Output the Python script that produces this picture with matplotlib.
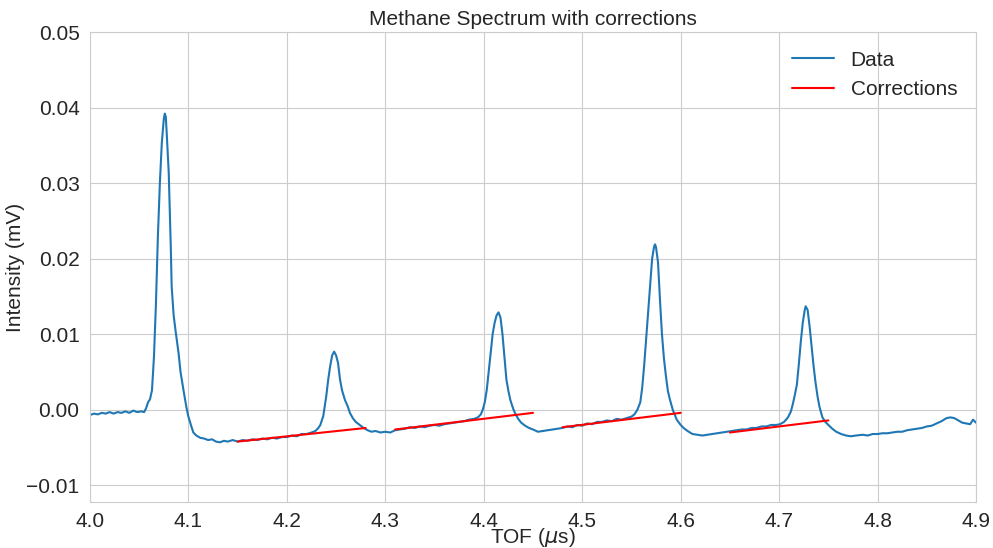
import matplotlib
matplotlib.use('Agg')
import matplotlib.pyplot as plt
import seaborn as sns
import numpy as np

# TOF trace (microseconds, mV)
tof = [
    4.000, 4.004, 4.008, 4.012, 4.016, 4.020, 4.024, 4.028, 4.032, 4.036,
    4.040, 4.044, 4.048, 4.052, 4.055, 4.057, 4.059, 4.061, 4.063, 4.065,
    4.067, 4.069, 4.071, 4.073, 4.075, 4.076, 4.077, 4.078, 4.080, 4.082,
    4.083, 4.085, 4.087, 4.090, 4.092, 4.095, 4.098, 4.100, 4.103, 4.105,
    4.108, 4.112, 4.116, 4.120, 4.124, 4.128, 4.132, 4.136, 4.140, 4.145,
    4.150, 4.155, 4.160, 4.165, 4.170, 4.175, 4.180, 4.185, 4.190, 4.195,
    4.200, 4.205, 4.210, 4.215, 4.220, 4.225, 4.229, 4.232, 4.234, 4.237,
    4.240, 4.242, 4.244, 4.246, 4.248, 4.250, 4.252, 4.254, 4.256, 4.259,
    4.262, 4.264, 4.267, 4.270, 4.274, 4.278, 4.282, 4.286, 4.290, 4.295,
    4.300, 4.305, 4.310, 4.315, 4.320, 4.325, 4.330, 4.335, 4.340, 4.345,
    4.350, 4.355, 4.360, 4.365, 4.370, 4.375, 4.380, 4.385, 4.390, 4.394,
    4.397, 4.399, 4.401, 4.403, 4.405, 4.407, 4.409, 4.411, 4.413, 4.415,
    4.417, 4.419, 4.421, 4.423, 4.425, 4.427, 4.430, 4.432, 4.435, 4.438,
    4.442, 4.446, 4.450, 4.455, 4.460, 4.465, 4.470, 4.475, 4.480, 4.485,
    4.490, 4.495, 4.500, 4.505, 4.510, 4.515, 4.520, 4.525, 4.530, 4.535,
    4.540, 4.545, 4.550, 4.553, 4.556, 4.559, 4.561, 4.563, 4.565, 4.567,
    4.569, 4.571, 4.573, 4.574, 4.575, 4.577, 4.579, 4.581, 4.583, 4.585,
    4.587, 4.589, 4.592, 4.596, 4.600, 4.603, 4.607, 4.612, 4.617, 4.622,
    4.627, 4.632, 4.637, 4.642, 4.647, 4.652, 4.657, 4.662, 4.667, 4.672,
    4.677, 4.682, 4.687, 4.692, 4.697, 4.701, 4.705, 4.709, 4.712, 4.714,
    4.716, 4.718, 4.720, 4.722, 4.724, 4.726, 4.727, 4.729, 4.731, 4.733,
    4.735, 4.737, 4.739, 4.741, 4.744, 4.747, 4.750, 4.754, 4.758, 4.763,
    4.768, 4.773, 4.778, 4.785, 4.790, 4.795, 4.800, 4.805, 4.810, 4.815,
    4.820, 4.825, 4.830, 4.835, 4.840, 4.845, 4.850, 4.855, 4.860, 4.865,
    4.870, 4.874, 4.878, 4.882, 4.886, 4.890, 4.894, 4.897, 4.900,
]
intensity = [
    -0.0007, -0.0005, -0.0006, -0.0004, -0.0005, -0.0003, -0.0005, -0.0003, -0.0004, -0.0002,
    -0.0004, -0.0001, -0.0003, -0.0002, -0.0003, 0.0002, 0.0010, 0.0014, 0.0026, 0.0070,
    0.0140, 0.0230, 0.0300, 0.0354, 0.0385, 0.0392, 0.0388, 0.0365, 0.0314, 0.0220,
    0.0163, 0.0125, 0.0104, 0.0075, 0.0050, 0.0026, 0.0003, -0.0009, -0.0022, -0.0030,
    -0.0034, -0.0037, -0.0038, -0.0040, -0.0039, -0.0042, -0.0043, -0.0041, -0.0042, -0.0040,
    -0.0042, -0.0040, -0.0041, -0.0039, -0.0040, -0.0038, -0.0039, -0.0037, -0.0038, -0.0036,
    -0.0036, -0.0034, -0.0035, -0.0032, -0.0032, -0.0030, -0.0028, -0.0024, -0.0020, -0.0008,
    0.0018, 0.0040, 0.0058, 0.0072, 0.0077, 0.0072, 0.0062, 0.0040, 0.0026, 0.0013,
    0.0004, -0.0004, -0.0011, -0.0016, -0.0020, -0.0024, -0.0027, -0.0029, -0.0028, -0.0030,
    -0.0029, -0.0030, -0.0027, -0.0026, -0.0025, -0.0023, -0.0024, -0.0022, -0.0023, -0.0021,
    -0.0020, -0.0021, -0.0019, -0.0018, -0.0017, -0.0016, -0.0015, -0.0013, -0.0012, -0.0010,
    -0.0006, 0.0000, 0.0010, 0.0026, 0.0050, 0.0075, 0.0100, 0.0115, 0.0125, 0.0129,
    0.0122, 0.0100, 0.0070, 0.0040, 0.0025, 0.0013, 0.0001, -0.0005, -0.0012, -0.0017,
    -0.0021, -0.0024, -0.0026, -0.0029, -0.0028, -0.0027, -0.0026, -0.0025, -0.0024, -0.0022,
    -0.0023, -0.0020, -0.0021, -0.0018, -0.0019, -0.0016, -0.0016, -0.0014, -0.0015, -0.0012,
    -0.0013, -0.0011, -0.0009, -0.0006, 0.0000, 0.0010, 0.0030, 0.0060, 0.0095, 0.0130,
    0.0165, 0.0200, 0.0216, 0.0219, 0.0215, 0.0195, 0.0145, 0.0100, 0.0068, 0.0045,
    0.0025, 0.0014, 0.0000, -0.0013, -0.0020, -0.0024, -0.0028, -0.0032, -0.0033, -0.0034,
    -0.0033, -0.0032, -0.0031, -0.0030, -0.0029, -0.0028, -0.0027, -0.0026, -0.0026, -0.0024,
    -0.0024, -0.0022, -0.0022, -0.0020, -0.0020, -0.0019, -0.0016, -0.0010, -0.0002, 0.0008,
    0.0020, 0.0033, 0.0060, 0.0090, 0.0115, 0.0132, 0.0137, 0.0132, 0.0110, 0.0084,
    0.0058, 0.0036, 0.0018, 0.0004, -0.0010, -0.0016, -0.0020, -0.0025, -0.0029, -0.0032,
    -0.0034, -0.0035, -0.0034, -0.0033, -0.0034, -0.0032, -0.0032, -0.0031, -0.0031, -0.0030,
    -0.0029, -0.0029, -0.0027, -0.0026, -0.0025, -0.0024, -0.0022, -0.0021, -0.0018, -0.0015,
    -0.0011, -0.0010, -0.0011, -0.0014, -0.0017, -0.0018, -0.0019, -0.0013, -0.0017,
]

# baseline corrections: one straight segment per peak (start/end)
corr_tof = [(4.15, 4.28), (4.31, 4.45), (4.48, 4.60), (4.65, 4.75)]
corr_val = [(-0.0042, -0.0024), (-0.0026, -0.0004), (-0.0023, -0.0004), (-0.0030, -0.0014)]

sns.set_style('whitegrid')
plt.rcParams['font.family'] = ['Liberation Sans', 'DejaVu Sans']

fig = plt.figure(figsize=(9.93, 5.48), dpi=100)
ax = fig.add_axes([0.0906, 0.0839, 0.8923, 0.8577])

ax.plot(tof, intensity, color='#1f77b4', lw=1.5, label='Data')
for i, (xs, ys) in enumerate(zip(corr_tof, corr_val)):
    ax.plot(xs, ys, color='red', lw=1.5, label='Corrections' if i == 0 else None)

ax.set_xlim(4.0, 4.9)
ax.set_ylim(-0.0122, 0.05)
ax.set_xticks(np.arange(4.0, 4.91, 0.1))
ax.set_yticks(np.arange(-0.01, 0.051, 0.01))
ax.xaxis.set_major_formatter(matplotlib.ticker.FormatStrFormatter('%.1f'))
ax.tick_params(labelsize=15, pad=4)

ax.set_title('Methane Spectrum with corrections', fontsize=15, pad=5)
ax.set_xlabel(r'TOF ($\mu$s)', fontsize=15)
ax.set_ylabel('Intensity (mV)', fontsize=15)
ax.xaxis.set_label_coords(0.5, -0.052)
ax.yaxis.set_label_coords(-0.073, 0.5)
ax.legend(loc='upper right', frameon=False, fontsize=15)

fig.savefig('out.png', dpi=100)
